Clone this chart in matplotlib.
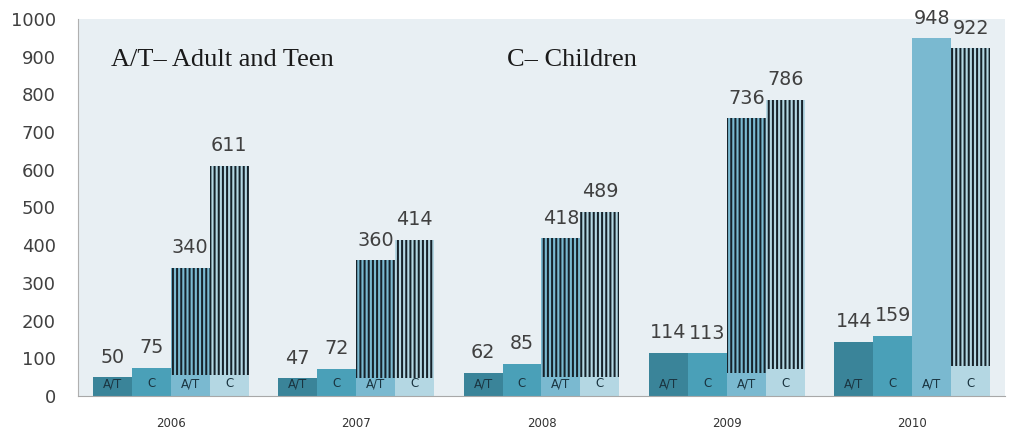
import numpy as np
import matplotlib
matplotlib.use("Agg")
import matplotlib.pyplot as plt

# donnees
years = ["2006", "2007", "2008", "2009", "2010"]
at_1 = [50, 47, 62, 114, 144]
c_1 = [75, 72, 85, 113, 159]
at_2 = [340, 360, 418, 736, 948]
c_2 = [611, 414, 489, 786, 922]
# partie basse (sans rayures) des barres 3 et 4
at_2_base = [56, 48, 51, 62, 948]
c_2_base = [56, 48, 51, 72, 80]

col_at1 = "#3a8499"
col_c1 = "#4aa0b8"
col_at2 = "#7ab9d0"
col_c2 = "#b4d7e3"
col_stripe = "#16222a"
col_txt = "#404040"

plt.rcParams["hatch.linewidth"] = 1.45

fig = plt.figure(figsize=(10.22, 4.32), dpi=100)
ax = fig.add_axes([0.0763, 0.0833, 0.907, 0.873])
ax.set_facecolor("#e8eff3")

x = np.arange(len(years))
w = 0.21

def draw_group(vals, base, offset, color, label):
    xs = x + offset
    ax.bar(xs, base, w, color=color, linewidth=0)
    top = np.array(vals) - np.array(base)
    ax.bar(xs, top, w, bottom=base, color=color, edgecolor=col_stripe,
           hatch="||||", linewidth=0)
    for xi, v in zip(xs, vals):
        ax.text(xi, v + 28, str(v), ha="center", va="bottom", fontsize=13.8,
                color=col_txt, clip_on=False)
        ax.text(xi, 32, label, ha="center", va="center", fontsize=8.5,
                color="#1a3440")

draw_group(at_1, at_1, -1.5 * w, col_at1, "A/T")
draw_group(c_1, c_1, -0.5 * w, col_c1, "C")
draw_group(at_2, at_2_base, 0.5 * w, col_at2, "A/T")
draw_group(c_2, c_2_base, 1.5 * w, col_c2, "C")

ax.set_xlim(-0.5, 4.5)
ax.set_ylim(0, 1000)
ax.set_yticks(range(0, 1001, 100))
ax.set_xticks(x)
ax.set_xticklabels(years, fontsize=8.5, color="#333333")
ax.tick_params(axis="y", length=0, pad=16, labelsize=13, labelcolor=col_txt)
ax.tick_params(axis="x", length=0, pad=15)
for s in ["top", "right"]:
    ax.spines[s].set_visible(False)
ax.spines["left"].set_color("#b0b0b0")
ax.spines["bottom"].set_color("#a8a8a8")

ax.text(0.036, 0.891, "A/T\u2013 Adult and Teen", transform=ax.transAxes,
        fontsize=19, family="Liberation Serif", color="#1a1a1a", va="center")
ax.text(0.463, 0.891, "C\u2013 Children", transform=ax.transAxes,
        fontsize=19, family="Liberation Serif", color="#1a1a1a", va="center")

fig.savefig("out.png", dpi=100)
